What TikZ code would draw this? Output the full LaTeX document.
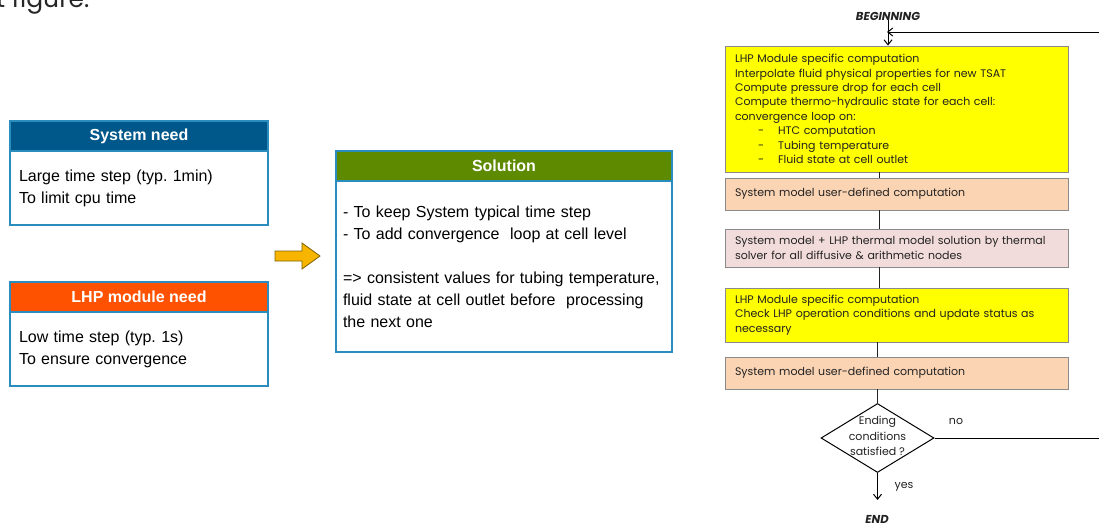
\documentclass[tikz,border=0pt]{standalone}
\usepackage{fontspec}
\setmainfont{Liberation Sans}
\newfontfamily\flowfont{Poppins}
\usetikzlibrary{shapes.geometric,arrows.meta}
\frenchspacing
\definecolor{hblue}{HTML}{00578A}
\definecolor{horange}{HTML}{FF5200}
\definecolor{hgreen}{HTML}{5E8A00}
\definecolor{bordblue}{HTML}{2A8DBE}
\definecolor{arrfill}{HTML}{F7B500}
\definecolor{arrline}{HTML}{7F6000}
\definecolor{fyellow}{HTML}{FFFF00}
\definecolor{fpeach}{HTML}{FBD4B4}
\definecolor{fpink}{HTML}{F2DCDB}
\definecolor{fbord}{HTML}{8A8A8A}
\definecolor{ftext}{HTML}{222222}
\tikzset{
  hdr/.style={draw=bordblue, line width=1.2pt, text=white, font=\fontsize{16}{18}\selectfont\bfseries, minimum height=30pt, inner sep=0pt},
  bodybox/.style={draw=bordblue, line width=1.2pt, fill=white, align=left, font=\fontsize{16}{22}\selectfont, text=black},
  fbox/.style={draw=fbord, line width=0.9pt, align=left, text width=323pt, inner xsep=10pt, inner ysep=0pt, font=\flowfont\fontsize{11}{14.4}\selectfont, text=ftext, anchor=center},
  fline/.style={draw=ftext, line width=1pt},
  farr/.style={draw=black, line width=1pt, -{Straight Barb[length=5pt,width=8pt]}},
  flab/.style={font=\flowfont\fontsize{11}{12}\selectfont, text=ftext, inner sep=0pt},
  fterm/.style={font=\flowfont\fontsize{11.5}{12}\selectfont\bfseries\itshape, text=ftext, inner sep=0pt},
}
\begin{document}
\begin{tikzpicture}[x=1pt,y=-1pt]
\useasboundingbox (0,0) rectangle (1099,522);
\clip (0,0) rectangle (1099,522);
% cropped caption fragment
\node[anchor=base west, inner sep=0pt, font=\flowfont\fontsize{25}{28}\selectfont, text=black!85] (cap) at (-4,8) {t figure.};
% System need
\node[hdr, fill=hblue, minimum width=258pt] (sysh) at (139,136) {System need};
\node[bodybox, text width=240pt, inner xsep=9pt, minimum height=74pt] (sysb) at (139,188) {Large time step (typ. 1min)\\To limit cpu time};
% LHP module need
\node[hdr, fill=horange, minimum width=258pt] (lhph) at (139,297) {LHP module need};
\node[bodybox, text width=240pt, inner xsep=9pt, minimum height=74pt] (lhpb) at (139,349) {Low time step (typ. 1s)\\To ensure convergence};
% block arrow
\draw[fill=arrfill, draw=arrline, line width=0.8pt] (275,251) -- (302,251) -- (302,243) -- (320,256) -- (302,269) -- (302,261) -- (275,261) -- cycle;
% Solution
\node[hdr, fill=hgreen, minimum width=336pt] (solh) at (504,166) {Solution};
\node[bodybox, text width=322pt, inner xsep=7pt, minimum height=171pt] (solb) at (504,266.5) {- To keep System typical time step\\- To add convergence\ \ loop at cell level\\[22pt]=> consistent values for tubing temperature,\\fluid state at cell outlet before\ \ processing\\the next one};
% flowchart
\node[fterm] (beg) at (888,16) {BEGINNING};
\node[fbox, fill=fyellow, minimum height=126pt] (b1) at (896.5,109) {LHP Module specific computation\\Interpolate fluid physical properties for new TSAT\\Compute pressure drop for each cell\\Compute thermo-hydraulic state for each cell:\\convergence loop on:\\\hspace*{23pt}-\hspace{14pt}HTC computation\\\hspace*{23pt}-\hspace{14pt}Tubing temperature\\\hspace*{23pt}-\hspace{14pt}Fluid state at cell outlet};
\node[fbox, fill=fpeach, minimum height=32pt] (b2) at (896.5,194) {System model user-defined computation};
\node[fbox, fill=fpink, minimum height=38pt] (b3) at (896.5,248) {System model + LHP thermal model solution by thermal\\solver for all diffusive \& arithmetic nodes};
\node[fbox, fill=fyellow, minimum height=54pt] (b4) at (896.5,315) {LHP Module specific computation\\Check LHP operation conditions and update status as\\necessary};
\node[fbox, fill=fpeach, minimum height=32pt] (b5) at (896.5,373) {System model user-defined computation};
\node[diamond, draw=black, line width=1pt, fill=white, minimum width=113pt, minimum height=69pt, inner sep=0pt, aspect=1.64] (d) at (877.5,438) {};
\node[font=\flowfont\fontsize{11}{15.5}\selectfont, text=ftext, align=center, inner sep=0pt] (dt) at (877.5,436) {Ending\\conditions\\satisfied ?};
\node[flab] (no) at (956,421) {no};
\node[flab] (yes) at (904,487) {yes};
\node[fterm] (end) at (877,519) {END};
\coordinate (loopin) at (887,32);
\coordinate (R) at (1110,0);
\coordinate (dbot) at (877.5,500);
% connectors
\draw[farr] (beg.south) -- (b1.north -| beg);
\draw[fline] (b1.south -| 879,0) -- (b2.north -| 879,0);
\draw[fline] (b2.south -| 879,0) -- (b3.north -| 879,0);
\draw[fline] (b3.south -| 879,0) -- (b4.north -| 879,0);
\draw[fline] (b4.south -| d) -- (b5.north -| d);
\draw[fline] (b5.south -| d) -- (d.north);
\draw[farr] (d.east) -- (d.east -| R) |- (loopin);
\draw[farr] (d.south) -- (dbot);
\end{tikzpicture}
\end{document}
